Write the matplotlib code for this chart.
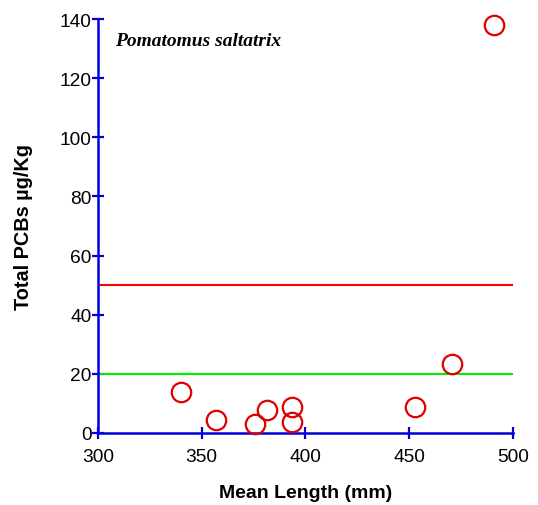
import numpy as np
import matplotlib.pyplot as plt

plt.rcParams['font.family'] = ['Liberation Sans', 'DejaVu Sans']

# mean length (mm) vs total PCBs (ug/Kg)
length_mm = [339.9, 356.8, 375.7, 381.4, 393.4, 393.4, 452.9, 470.6, 491.0]
pcb_total = [13.8, 4.5, 2.9, 7.8, 8.7, 3.6, 8.7, 23.4, 138.0]
guide_levels = [50, 20]
guide_colors = ['#ff0000', '#00ee00']

fig = plt.figure(figsize=(5.38, 5.06), dpi=100)
ax = fig.add_axes([0.182, 0.1423, 0.7714, 0.818])

for lev, col in zip(guide_levels, guide_colors):
    ax.plot([300, 500], [lev, lev], color=col, linewidth=1.5, zorder=2)

ax.plot(length_mm, pcb_total, 'o', markersize=14, markerfacecolor='none',
        markeredgecolor='#dd0000', markeredgewidth=1.6, clip_on=False, zorder=3)

ax.set_xlim(300, 500)
ax.set_ylim(0, 140)
ax.set_xticks([300, 350, 400, 450, 500])
ax.set_yticks(np.arange(0, 141, 20))

for s in ['top', 'right']:
    ax.spines[s].set_visible(False)
for s in ['left', 'bottom']:
    ax.spines[s].set_color('#0000dd')
    ax.spines[s].set_linewidth(1.8)

ax.tick_params(axis='both', direction='inout', length=9, width=1.6,
               color='#0000dd', labelsize=13.8, labelcolor='black')
ax.tick_params(axis='x', pad=6)
ax.tick_params(axis='y', pad=0)

ax.set_xlabel('Mean Length (mm)', fontsize=14, fontweight='bold', labelpad=14)
ax.set_ylabel('Total PCBs µg/Kg', fontsize=14.3, fontweight='bold', labelpad=19)

ax.text(308, 132.8, 'Pomatomus saltatrix', family='Liberation Serif',
        style='italic', fontweight='bold', fontsize=14, va='center', ha='left')

fig.savefig('out.png', dpi=100)
